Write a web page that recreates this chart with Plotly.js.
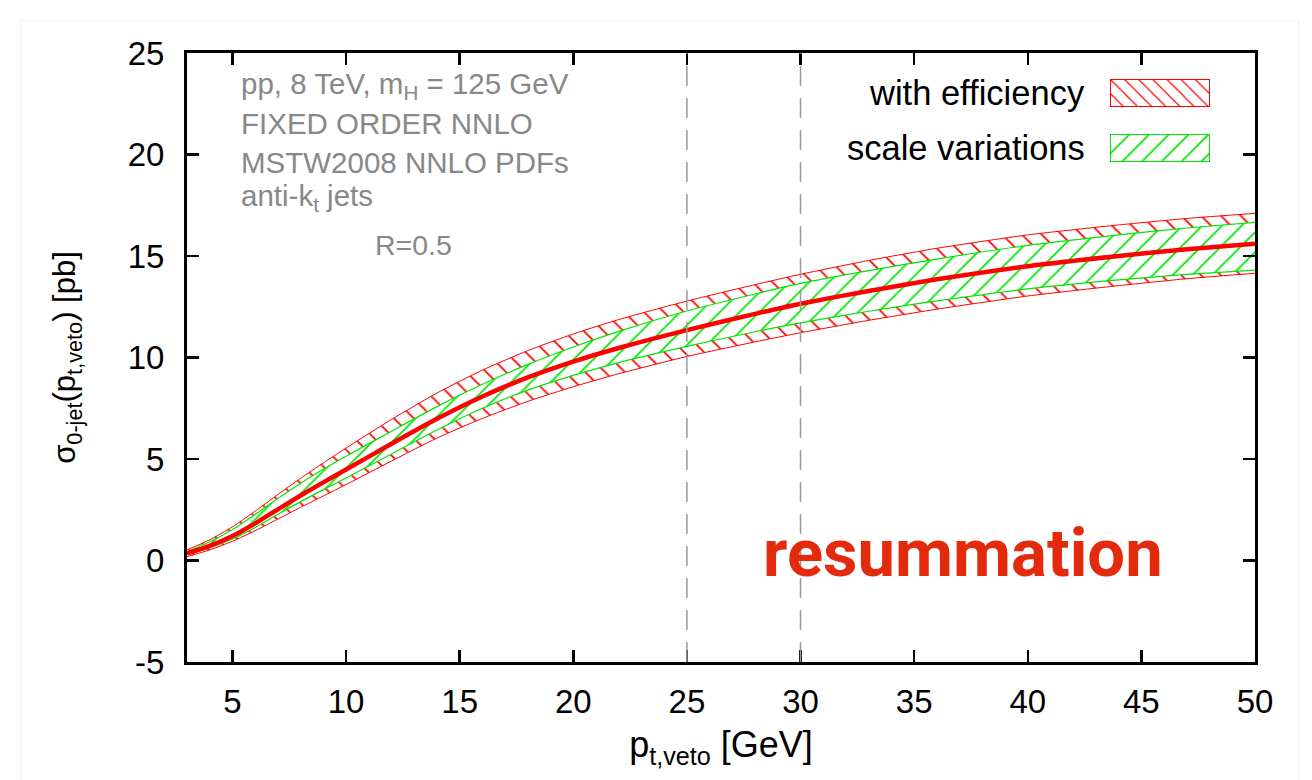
<!DOCTYPE html>
<html>
<head>
<meta charset="utf-8">
<script src="https://cdn.plot.ly/plotly-3.0.1.min.js"></script>
<style>
  html, body { margin: 0; padding: 0; background: #ffffff; }
  #card { position: absolute; left: 20px; top: 20px; width: 1279px; height: 800px;
          border: 1px solid #efefef; box-sizing: border-box; }
  #chart { position: absolute; left: 0; top: 0; width: 1312px; height: 780px; }
</style>
</head>
<body>
<div id="card"></div>
<div id="chart"></div>
<script>
// Jet-veto transverse momentum [GeV]
const ptVeto = [3, 4, 5, 6, 7, 8, 9, 10, 12, 14, 16, 18, 20, 22, 25, 28, 30, 33, 36, 40, 44, 47, 50];
// Central 0-jet cross section [pb]
const sigmaCentral = [0.35, 0.72, 1.21, 1.83, 2.52, 3.2, 3.85, 4.48, 5.75, 6.98, 8.08, 9.02, 9.8, 10.47, 11.35, 12.15, 12.65, 13.28, 13.85, 14.5, 15.0, 15.33, 15.6];
// Band including efficiency uncertainty
const effUpper = [0.52, 1.02, 1.66, 2.43, 3.25, 4.05, 4.81, 5.54, 6.95, 8.25, 9.38, 10.34, 11.16, 11.87, 12.78, 13.59, 14.1, 14.78, 15.38, 16.04, 16.53, 16.85, 17.1];
const effLower = [0.19, 0.52, 0.95, 1.47, 2.04, 2.62, 3.18, 3.74, 4.9, 6.03, 7.0, 7.84, 8.56, 9.2, 10.05, 10.77, 11.22, 11.83, 12.38, 13.03, 13.54, 13.88, 14.15];
// Band from scale variations
const scaleUpper = [0.43, 0.92, 1.53, 2.27, 3.06, 3.81, 4.5, 5.14, 6.37, 7.58, 8.68, 9.66, 10.52, 11.29, 12.29, 13.13, 13.65, 14.28, 14.85, 15.52, 16.04, 16.38, 16.66];
const scaleLower = [0.3, 0.62, 1.06, 1.63, 2.28, 2.9, 3.49, 4.06, 5.25, 6.43, 7.5, 8.39, 9.12, 9.75, 10.55, 11.27, 11.71, 12.28, 12.79, 13.38, 13.82, 14.09, 14.3];
// Veto cuts marked by dashed lines
const vetoCuts = [25, 30];
// Axis ticks
const xTicks = [5, 10, 15, 20, 25, 30, 35, 40, 45, 50];
const yTicks = [-5, 0, 5, 10, 15, 20, 25];
const yTickText = ["-5", "0", "5", "10", "15", "20", "25"];
// Text
const infoLines = ["pp, 8 TeV, m<sub>H</sub> = 125 GeV", "FIXED ORDER NNLO", "MSTW2008 NNLO PDFs", "anti-k<sub>t</sub> jets"];
const radiusLabel = "R=0.5";
const legendLabels = ["with efficiency", "scale variations"];
const bigLabel = "resummation";

const RED = "#ff0000";
const GREEN = "#00e600";
const FONT = "Liberation Sans, Arial, Helvetica, sans-serif";

// plot area in pixels
const W = 1312, H = 780;
const L = 187, R = 1255, T = 53, B = 662;
const px = x => (x - L) / (R - L);
const py = y => (B - y) / (B - T);

const smooth = { shape: "spline", smoothing: 0.6 };

const traces = [
  { x: ptVeto, y: effLower, mode: "lines", line: Object.assign({ color: RED, width: 1 }, smooth),
    hoverinfo: "skip", showlegend: false },
  { x: ptVeto, y: effUpper, mode: "lines", line: Object.assign({ color: RED, width: 1 }, smooth),
    fill: "tonexty", fillcolor: "rgba(0,0,0,0)",
    fillpattern: { shape: "\\", fgcolor: RED, bgcolor: "#ffffff", size: 14, solidity: 0.12 },
    name: legendLabels[0], showlegend: false },
  { x: ptVeto, y: scaleLower, mode: "lines", line: Object.assign({ color: GREEN, width: 1.2 }, smooth),
    hoverinfo: "skip", showlegend: false },
  { x: ptVeto, y: scaleUpper, mode: "lines", line: Object.assign({ color: GREEN, width: 1.2 }, smooth),
    fill: "tonexty", fillcolor: "rgba(0,0,0,0)",
    fillpattern: { shape: "/", fgcolor: GREEN, bgcolor: "#ffffff", size: 14, solidity: 0.12 },
    name: legendLabels[1], showlegend: false },
  { x: ptVeto, y: sigmaCentral, mode: "lines", line: Object.assign({ color: RED, width: 4.5 }, smooth),
    name: "central", showlegend: false }
];

// legend keys: hatched boxes in small dedicated axes
const keyBox = { x: [0, 1, 1, 0, 0], y: [0, 0, 1, 1, 0] };
traces.push({ x: keyBox.x, y: keyBox.y, xaxis: "x2", yaxis: "y2", mode: "lines", fill: "toself",
  line: { color: RED, width: 2 }, fillcolor: "rgba(0,0,0,0)",
  fillpattern: { shape: "\\", fgcolor: RED, bgcolor: "#ffffff", size: 10, solidity: 0.12 },
  hoverinfo: "skip", showlegend: false });
traces.push({ x: keyBox.x, y: keyBox.y, xaxis: "x3", yaxis: "y3", mode: "lines", fill: "toself",
  line: { color: GREEN, width: 2 }, fillcolor: "rgba(0,0,0,0)",
  fillpattern: { shape: "/", fgcolor: GREEN, bgcolor: "#ffffff", size: 14, solidity: 0.12 },
  hoverinfo: "skip", showlegend: false });

const keyAxis = dom => ({ domain: dom, range: [0, 1], visible: false, fixedrange: true });

const annotations = [];
const infoY = [85, 124, 162, 197];
infoLines.forEach((t, i) => annotations.push({
  text: t, xref: "paper", yref: "paper", x: px(239), y: py(infoY[i]),
  xanchor: "left", yanchor: "middle", showarrow: false,
  font: { family: FONT, size: 29.5, color: "#888888" }
}));
annotations.push({ text: radiusLabel, xref: "paper", yref: "paper", x: px(413), y: py(245),
  xanchor: "center", yanchor: "middle", showarrow: false,
  font: { family: FONT, size: 28.5, color: "#888888" } });
legendLabels.forEach((t, i) => annotations.push({
  text: t, xref: "paper", yref: "paper", x: px(1087), y: py([93, 148][i]),
  xanchor: "right", yanchor: "middle", showarrow: false,
  font: { family: FONT, size: 34.5, color: "#000000" }
}));
annotations.push({ text: "<b>" + bigLabel + "</b>", xref: "paper", yref: "paper", x: px(963), y: py(553),
  xanchor: "center", yanchor: "middle", showarrow: false,
  font: { family: "Roboto, " + FONT, size: 67, color: "#e32a0c" } });

const shapes = vetoCuts.map(v => ({
  type: "line", xref: "x", yref: "paper", x0: v, x1: v, y0: 0, y1: 1,
  line: { color: "#9a9a9a", width: 1.5, dash: "20px,12px" }, layer: "above"
}));

const layout = {
  width: W, height: H,
  margin: { l: L, r: W - R, t: T, b: H - B, pad: 0 },
  paper_bgcolor: "rgba(0,0,0,0)", plot_bgcolor: "rgba(0,0,0,0)",
  font: { family: FONT, size: 33, color: "#000000" },
  showlegend: false,
  xaxis: {
    range: [3, 50], tickvals: xTicks, ticks: "inside", ticklen: 12, tickwidth: 2.5, tickcolor: "#000",
    showline: true, linecolor: "#000", linewidth: 3, mirror: "ticks", showgrid: false, zeroline: false,
    tickfont: { family: FONT, size: 33 }, ticklabelstandoff: 8,
    title: { text: "p<sub>t,veto</sub> [GeV]", font: { family: FONT, size: 36 }, standoff: 14 }
  },
  yaxis: {
    range: [-5, 25], tickvals: yTicks, ticktext: yTickText, ticks: "inside", ticklen: 12, tickwidth: 2.5, tickcolor: "#000",
    showline: true, linecolor: "#000", linewidth: 3, mirror: "ticks", showgrid: false, zeroline: false,
    tickfont: { family: FONT, size: 33 }, ticklabelstandoff: 13,
    title: { text: "σ<sub>0-jet</sub>(p<sub>t,veto</sub>) [pb]", font: { family: FONT, size: 31 }, standoff: 43 }
  },
  xaxis2: keyAxis([px(1110), px(1210)]),
  yaxis2: Object.assign(keyAxis([py(107), py(79)]), { anchor: "x2" }),
  xaxis3: keyAxis([px(1110), px(1210)]),
  yaxis3: Object.assign(keyAxis([py(162), py(134)]), { anchor: "x3" }),
  annotations: annotations,
  shapes: shapes
};
layout.xaxis2.anchor = "y2";
layout.xaxis3.anchor = "y3";

Plotly.newPlot("chart", traces, layout, { staticPlot: true, displayModeBar: false });
</script>
</body>
</html>
